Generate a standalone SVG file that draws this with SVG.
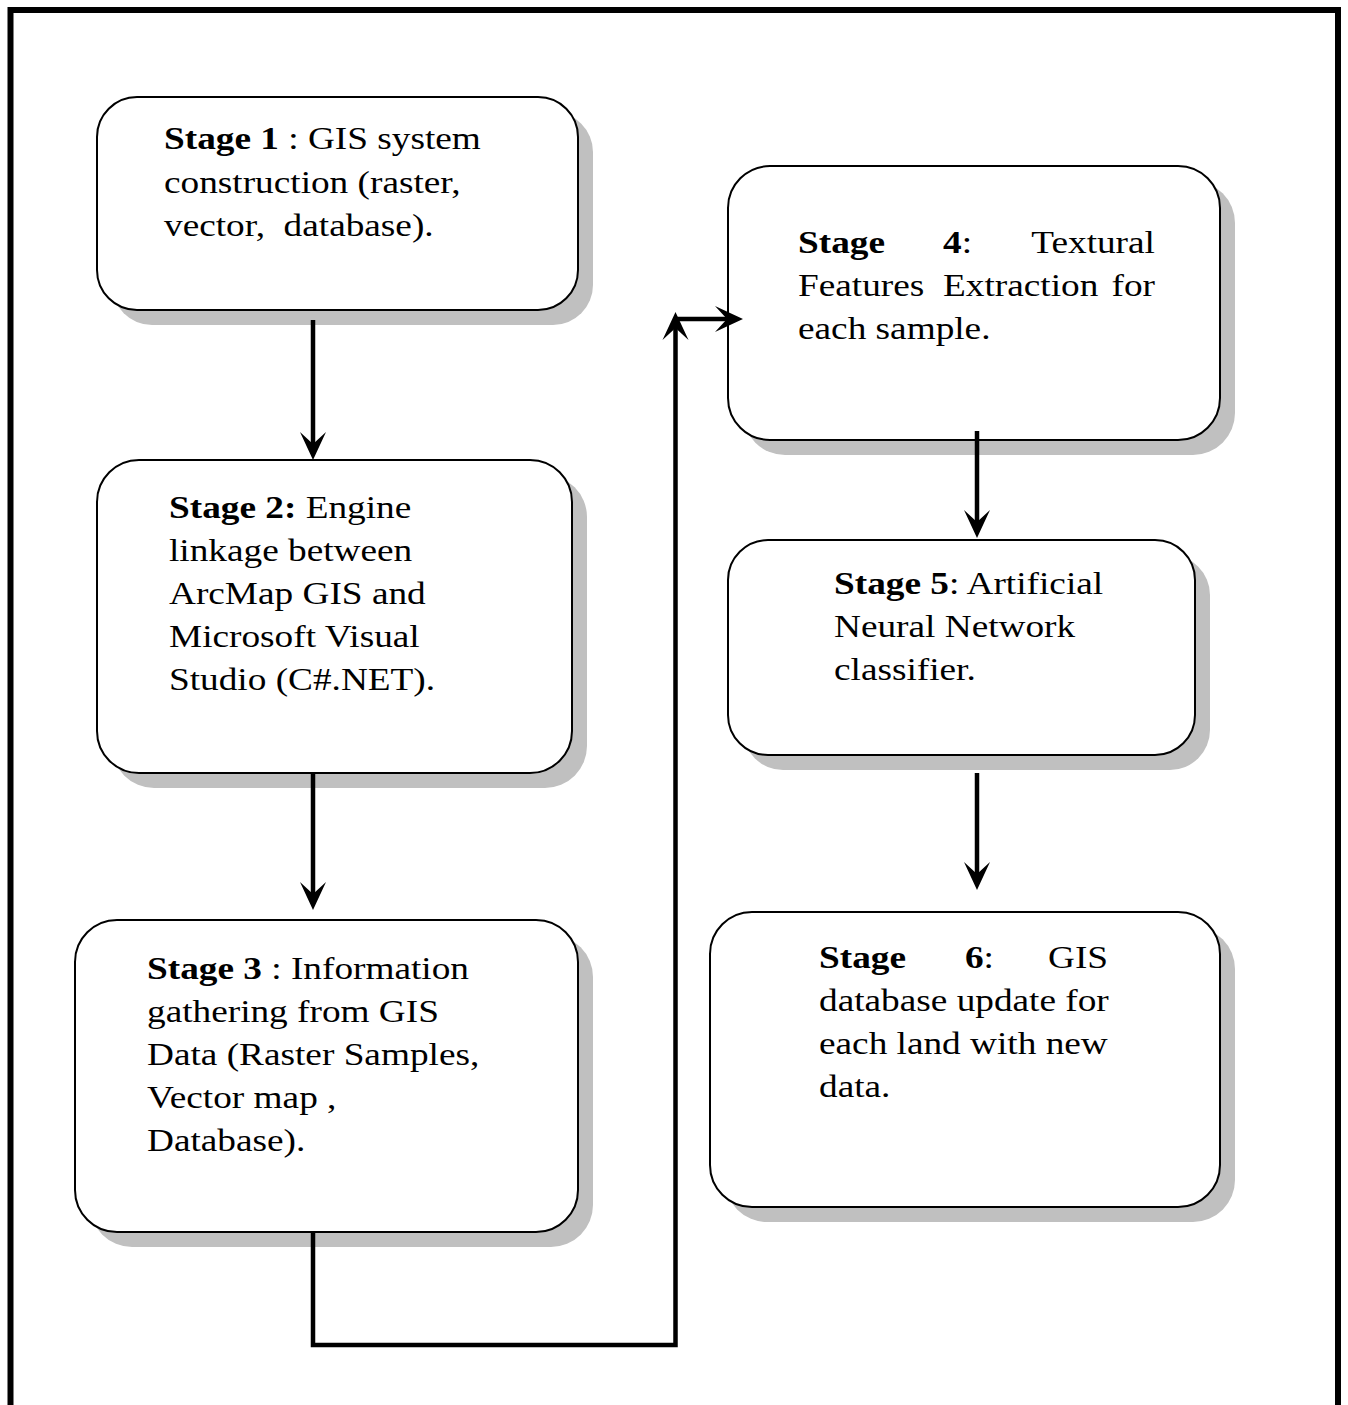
<svg xmlns="http://www.w3.org/2000/svg" width="1348" height="1405" viewBox="0 0 1348 1405">
<defs>
<style>
.frame{fill:none;stroke:#000;stroke-width:6}
.shadow{fill:#c0c0c0}
.box{fill:#fff;stroke:#000;stroke-width:2}
.t{font-family:"Liberation Serif","Times New Roman",serif;font-size:32px;fill:#000;white-space:pre}
.b{font-weight:bold}
.conn{fill:none;stroke:#000;stroke-width:4.5}
</style>
<marker id="ah" markerUnits="userSpaceOnUse" viewBox="0 0 28 28" refX="14" refY="14" markerWidth="28" markerHeight="28" orient="auto">
<path d="M28,14 L0,1 L12,14 L0,27 Z" fill="#000"/>
</marker>
</defs>
<rect width="1348" height="1405" fill="#fff"/>
<rect class="frame" x="10.5" y="10" width="1327.5" height="1420"/>

<g id="stage1">
<rect class="shadow" x="112" y="112" width="481" height="213" rx="40"/>
<rect class="box" x="97" y="97" width="481" height="213" rx="40"/>
<g transform="matrix(1.165,0,0,1,164,0)">
<text class="t" x="0" y="149"><tspan class="b">Stage 1</tspan> : GIS system</text>
<text class="t" x="0" y="193">construction (raster,</text>
<text class="t" x="0" y="236">vector,  database).</text>
</g>
</g>

<g id="stage2">
<rect class="shadow" x="112" y="475" width="475" height="313" rx="42"/>
<rect class="box" x="97" y="460" width="475" height="313" rx="42"/>
<g transform="matrix(1.165,0,0,1,169,0)">
<text class="t" x="0" y="518"><tspan class="b">Stage 2:</tspan> Engine</text>
<text class="t" x="0" y="561">linkage between</text>
<text class="t" x="0" y="604">ArcMap GIS and</text>
<text class="t" x="0" y="647">Microsoft Visual</text>
<text class="t" x="0" y="690">Studio (C#.NET).</text>
</g>
</g>

<g id="stage3">
<rect class="shadow" x="90" y="935" width="503" height="312" rx="42"/>
<rect class="box" x="75" y="920" width="503" height="312" rx="42"/>
<g transform="matrix(1.165,0,0,1,147,0)">
<text class="t" x="0" y="979"><tspan class="b">Stage 3</tspan> : Information</text>
<text class="t" x="0" y="1022">gathering from GIS</text>
<text class="t" x="0" y="1065">Data (Raster Samples,</text>
<text class="t" x="0" y="1108">Vector map ,</text>
<text class="t" x="0" y="1151">Database).</text>
</g>
</g>

<g id="stage4">
<rect class="shadow" x="743" y="181" width="492" height="274" rx="42"/>
<rect class="box" x="728" y="166" width="492" height="274" rx="42"/>
<g transform="matrix(1.165,0,0,1,798,0)">
<text class="t b" x="0" y="253">Stage</text>
<text class="t" x="124.5" y="253"><tspan class="b">4</tspan>:</text>
<text class="t" x="306.4" y="253" text-anchor="end">Textural</text>
<text class="t" x="0" y="296">Features</text>
<text class="t" x="124.5" y="296">Extraction</text>
<text class="t" x="306.4" y="296" text-anchor="end">for</text>
<text class="t" x="0" y="339">each sample.</text>
</g>
</g>

<g id="stage5">
<rect class="shadow" x="743" y="555" width="467" height="215" rx="40"/>
<rect class="box" x="728" y="540" width="467" height="215" rx="40"/>
<g transform="matrix(1.165,0,0,1,834,0)">
<text class="t" x="0" y="594"><tspan class="b">Stage 5</tspan>: Artificial</text>
<text class="t" x="0" y="637">Neural Network</text>
<text class="t" x="0" y="680">classifier.</text>
</g>
</g>

<g id="stage6">
<rect class="shadow" x="725" y="927" width="510" height="295" rx="42"/>
<rect class="box" x="710" y="912" width="510" height="295" rx="42"/>
<g transform="matrix(1.165,0,0,1,819,0)">
<text class="t b" x="0" y="968">Stage</text>
<text class="t" x="125.3" y="968"><tspan class="b">6</tspan>:</text>
<text class="t" x="248.1" y="968" text-anchor="end">GIS</text>
<text class="t" x="0" y="1011">database update for</text>
<text class="t" x="0" y="1054">each land with new</text>
<text class="t" x="0" y="1097">data.</text>
</g>
</g>

<g id="connectors">
<path class="conn" d="M313,320 V446" marker-end="url(#ah)"/>
<path class="conn" d="M313,773 V896" marker-end="url(#ah)"/>
<path class="conn" d="M977,431 V524" marker-end="url(#ah)"/>
<path class="conn" d="M977,773 V876" marker-end="url(#ah)"/>
<path class="conn" d="M313,1232 V1345 H675.5 V326" marker-end="url(#ah)"/>
<path class="conn" d="M675.5,319 H729" marker-end="url(#ah)"/>
</g>
</svg>
